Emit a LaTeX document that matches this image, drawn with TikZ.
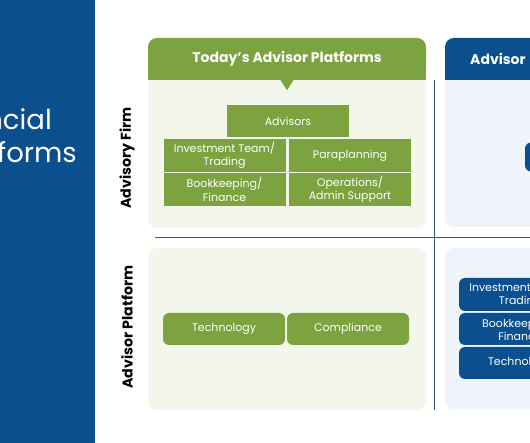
\documentclass[tikz,border=0pt]{standalone}
\usepackage{fontspec}
\setmainfont{Poppins}
\definecolor{advgreen}{HTML}{7CA33F}
\definecolor{panelgreen}{HTML}{F2F6EB}
\definecolor{advblue}{HTML}{0B4F8E}
\definecolor{panelblue}{HTML}{EEF4FA}
\definecolor{rulecol}{HTML}{35557E}
\begin{document}
\begin{tikzpicture}[x=1pt,y=-1pt,
  every node/.style={font=\fontsize{11}{13.5}\selectfont,text=white,align=center,inner sep=0pt},
  panel/.style={rounded corners=9pt,minimum width=278pt},
  header/.style={rounded corners=9pt,minimum width=278pt,minimum height=42pt,font=\fontsize{14}{16}\selectfont\bfseries},
  gbox/.style={fill=advgreen,minimum width=122pt,minimum height=33pt},
  bbox/.style={fill=advblue,rounded corners=6pt,minimum width=122pt,minimum height=32pt},
  sidelabel/.style={rotate=90,text=black,font=\fontsize{14.2}{16}\selectfont\bfseries}]
\useasboundingbox (0,0) rectangle (530,443);
\clip (0,0) rectangle (530,443);
% left title panel
\fill[advblue] (0,0) rectangle (95,443);
\node[anchor=base east,font=\fontsize{27.5}{30}\selectfont] (titleA) at (52,130) {Financial};
\node[anchor=base east,font=\fontsize{27.5}{30}\selectfont] (titleB) at (77,163) {Platforms};
% row labels
\node[sidelabel] (firmlbl) at (127,158) {Advisory Firm};
\node[sidelabel] (platlbl) at (127,327) {Advisor Platform};
% today column
\node[panel,fill=panelgreen,minimum height=190pt] (firmbg) at (287,133) {};
\node[header,fill=advgreen] (todayhdr) at (287,59) {Today’s Advisor Platforms};
\fill[advgreen] (todayhdr.south west) rectangle ([yshift=10pt]todayhdr.south east);
\fill[advgreen] ([xshift=-6.5pt]todayhdr.south) -- ([xshift=6.5pt]todayhdr.south) -- ([yshift=-10pt]todayhdr.south) -- cycle;
\node[gbox,minimum height=32pt] (advisors) at (288,121) {Advisors};
\node[gbox] (invest) at (224.5,155.5) {Investment Team/\\Trading};
\node[gbox] (paraplan) at (350,155.5) {Paraplanning};
\node[gbox] (bookkeep) at (224.5,189.5) {Bookkeeping/\\Finance};
\node[gbox] (opsadmin) at (350,189.5) {Operations/\\Admin Support};
\node[panel,fill=panelgreen,minimum height=162pt] (platbg) at (287,329) {};
\node[gbox,rounded corners=6pt,minimum height=32pt] (techL) at (224,329) {Technology};
\node[gbox,rounded corners=6pt,minimum height=32pt] (complL) at (348,329) {Compliance};
% dividers
\draw[rulecol,line width=0.8pt] (434,80) -- (434,410);
\draw[rulecol,line width=0.8pt] (155,237) -- (530,237);
% future column
\node[panel,fill=panelblue,minimum height=189pt] (firmbgR) at (584,132.5) {};
\node[header,fill=advblue] (futurehdr) at (584,59) {};
\fill[advblue] (futurehdr.south west) rectangle ([yshift=10pt]futurehdr.south east);
\node[anchor=west,font=\fontsize{14}{16}\selectfont\bfseries] (futuretxt) at (470,59) {Advisor};
\node[bbox,minimum height=29pt] (advisorsR) at (586,157) {};
\node[panel,fill=panelblue,minimum height=161pt] (platbgR) at (584,328.5) {};
\node[bbox,minimum height=33pt] (investR) at (520,294.5) {Investment Team/\\Trading};
\node[bbox] (bookkeepR) at (520,329) {Bookkeeping/\\Finance};
\node[bbox] (techR) at (520,363) {Technology};
\end{tikzpicture}
\end{document}
